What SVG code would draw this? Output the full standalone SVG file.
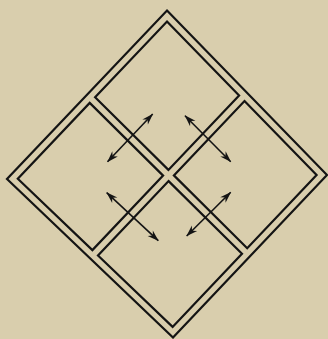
<svg xmlns="http://www.w3.org/2000/svg" width="328" height="339" viewBox="0 0 328 339">
<defs>
<style>
.frame{fill:none;stroke:#141414;stroke-width:2.2;stroke-linejoin:miter}
.cell{fill:none;stroke:#141414;stroke-width:2.2;stroke-linejoin:miter}
.arrow{fill:none;stroke:#141414;stroke-width:1.6;marker-start:url(#head);marker-end:url(#head)}
</style>
<marker id="head" viewBox="-13 -5 14 10" refX="0" refY="0" markerWidth="14" markerHeight="10" markerUnits="userSpaceOnUse" orient="auto-start-reverse">
<path d="M0.5,0 L-11,-3.8 L-7.5,0 L-11,3.8 Z" fill="#141414"/>
</marker>
</defs>
<rect width="328" height="339" fill="#d9cead"/>
<g id="frame">
<polygon class="frame" points="167,10.5 327,175 173,337.5 7,179"/>
</g>
<g id="cell-top">
<polygon class="cell" points="167,21.5 239.1,95.4 168.4,169.9 95.1,97.2"/>
</g>
<g id="cell-right">
<polygon class="cell" points="244.5,101 316.6,174.9 247.2,248.2 173.9,175.4"/>
</g>
<g id="cell-left">
<polygon class="cell" points="89.7,102.9 163.1,175.6 92.4,250.1 17.8,178.7"/>
</g>
<g id="cell-bottom">
<polygon class="cell" points="168.6,181.1 242,253.7 172.6,326.9 98,255.5"/>
</g>
<g id="connectors">
<line class="arrow" x1="107.5" y1="161.8" x2="152.7" y2="114"/>
<line class="arrow" x1="185" y1="115.7" x2="230.7" y2="161.7"/>
<line class="arrow" x1="106.7" y1="192.7" x2="158.3" y2="240.7"/>
<line class="arrow" x1="230.7" y1="192.3" x2="186.7" y2="236"/>
</g>
</svg>
